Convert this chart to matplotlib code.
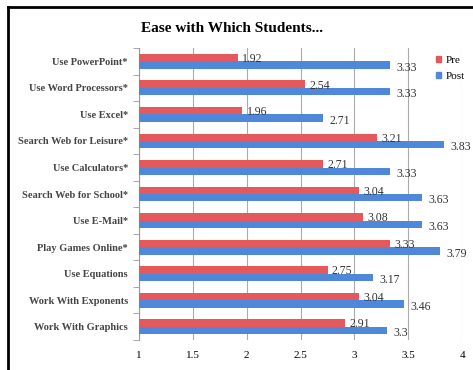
import numpy as np
import matplotlib.pyplot as plt
from matplotlib.patches import Patch
from matplotlib.lines import Line2D

categories = ["Use PowerPoint*", "Use Word Processors*", "Use Excel*",
              "Search Web for Leisure*", "Use Calculators*", "Search Web for School*",
              "Use E-Mail*", "Play Games Online*", "Use Equations",
              "Work With Exponents", "Work With Graphics"]
pre = [1.92, 2.54, 1.96, 3.21, 2.71, 3.04, 3.08, 3.33, 2.75, 3.04, 2.91]
post = [3.33, 3.33, 2.71, 3.83, 3.33, 3.63, 3.63, 3.79, 3.17, 3.46, 3.3]
pre_labels = ["1.92", "2.54", "1.96", "3.21", "2.71", "3.04", "3.08", "3.33", "2.75", "3.04", "2.91"]
post_labels = ["3.33", "3.33", "2.71", "3.83", "3.33", "3.63", "3.63", "3.79", "3.17", "3.46", "3.3"]

RED = "#e5585b"
BLUE = "#4f87da"
SERIF = ["Liberation Serif", "DejaVu Serif"]

fig = plt.figure(figsize=(4.73, 3.7), dpi=100)
ax = fig.add_axes([0.294, 0.081, 0.683, 0.789])

y = np.arange(len(categories))
h = 0.28
ax.barh(y - h / 2, np.array(pre) - 1, h, left=1, color=RED, zorder=3)
ax.barh(y + h / 2, np.array(post) - 1, h, left=1, color=BLUE, zorder=3)

for i in range(len(categories)):
    ax.text(pre[i] + 0.04, y[i] - h / 2 + 0.05, pre_labels[i], fontsize=8.5,
            family=SERIF, color="#333333", va="center", ha="left", zorder=4)
    ax.text(post[i] + 0.06, y[i] + h / 2 + 0.1, post_labels[i], fontsize=8.5,
            family=SERIF, color="#333333", va="center", ha="left", zorder=4)

ax.set_xlim(1, 4)
ax.set_ylim(len(categories) - 0.5, -0.5)
ax.set_xticks([1, 1.5, 2, 2.5, 3, 3.5, 4])
ax.set_xticklabels(["1", "1.5", "2", "2.5", "3", "3.5", "4"], family=SERIF, fontsize=8)
ax.set_yticks(y)
ax.set_yticklabels(categories, family=SERIF, fontsize=7.5, fontweight="bold", color="#444444")
ax.set_yticks(np.arange(-0.5, len(categories), 1), minor=True)
ax.tick_params(axis="y", which="major", length=0, pad=8)
ax.tick_params(axis="y", which="minor", length=4, color="#999999")
ax.tick_params(axis="x", length=0, pad=8)
ax.grid(axis="x", color="#aaaaaa", linewidth=0.8, zorder=0)
for s in ["top", "right", "bottom"]:
    ax.spines[s].set_visible(False)
ax.spines["left"].set_color("#999999")

fig.text(0.49, 0.922, "Ease with Which Students...", family=SERIF, fontsize=11,
         fontweight="bold", ha="center", va="center")

handles = [Patch(color=RED), Patch(color=BLUE)]
leg = fig.legend(handles, ["Pre", "Post"], loc="upper left", bbox_to_anchor=(0.905, 0.87),
                 frameon=True, facecolor="white", edgecolor="white", framealpha=1,
                 handlelength=0.5, handleheight=0.5, handletextpad=0.4, labelspacing=0.6,
                 borderpad=0.2, prop={"family": SERIF, "size": 8})

# outer frame
fig.add_artist(Line2D([8 / 473, 1], [1 - 7 / 370, 1 - 7 / 370], color="black", linewidth=2,
                      transform=fig.transFigure))
fig.add_artist(Line2D([8 / 473, 8 / 473], [0, 1 - 7 / 370], color="black", linewidth=2,
                      transform=fig.transFigure))

fig.savefig("out.png", dpi=100)
